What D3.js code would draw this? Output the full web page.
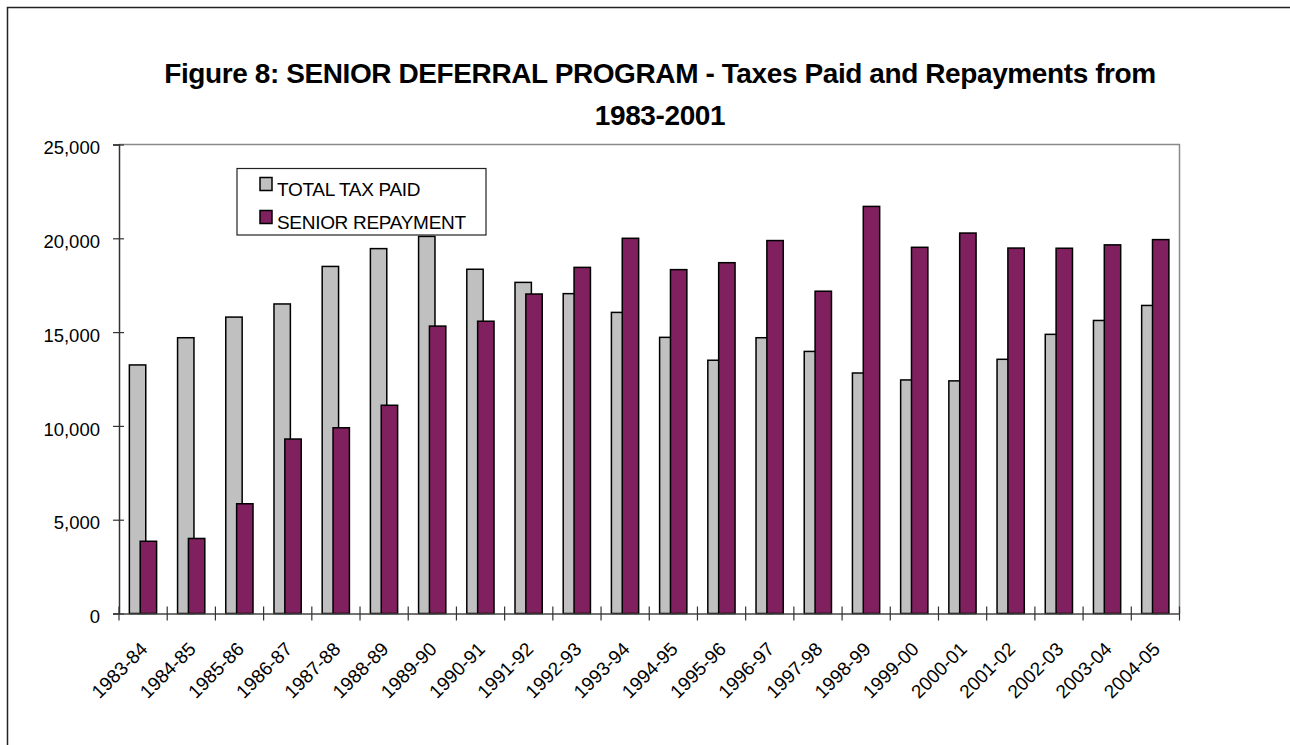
<!DOCTYPE html>
<html>
<head>
<meta charset="utf-8">
<script src="https://cdn.jsdelivr.net/npm/d3@7"></script>
<style>
  body { margin: 0; background: #fff; }
  svg { display: block; font-family: "Liberation Sans", Arial, sans-serif; }
</style>
</head>
<body>
<div id="chart"></div>
<script>
// data
const years = ["1983-84", "1984-85", "1985-86", "1986-87", "1987-88", "1988-89", "1989-90",
    "1990-91", "1991-92", "1992-93", "1993-94", "1994-95", "1995-96", "1996-97", "1997-98",
    "1998-99", "1999-00", "2000-01", "2001-02", "2002-03", "2003-04", "2004-05"];
const totalTaxPaid = [13250, 14700, 15800, 16500, 18500, 19450, 20100, 18350, 17650, 17050, 16050,
    14720, 13500, 14700, 13970, 12820, 12450, 12400, 13550, 14880, 15620, 16420];
const seniorRepayment = [3850, 4000, 5850, 9300, 9900, 11100, 15320, 15580, 17030, 18450, 20000,
    18330, 18700, 19880, 17180, 21700, 19520, 20280, 19480, 19470, 19650, 19930];
const seriesNames = ["TOTAL TAX PAID", "SENIOR REPAYMENT"];
const seriesColors = ["#C0C0C0", "#80205F"];
const yTicks = [0, 5000, 10000, 15000, 20000, 25000];
const titleLines = ["Figure 8: SENIOR DEFERRAL PROGRAM - Taxes Paid and Repayments from", "1983-2001"];

const W = 1290, H = 745;
const plot = {left: 119, right: 1179.5, top: 144.5, bottom: 613.5};

const svg = d3.select("#chart").append("svg")
    .attr("width", W)
    .attr("height", H);

// outer chart frame: only its left and top edges are in the picture
svg.append("path")
    .attr("d", `M7.5,${H}V7.5H${W}`)
    .attr("fill", "none")
    .attr("stroke", "#222")
    .attr("stroke-width", 1.5);

// title
svg.append("g").selectAll("text")
    .data(titleLines)
    .enter().append("text")
    .attr("x", 660)
    .attr("y", (d, i) => 83 + i * 42)
    .attr("text-anchor", "middle")
    .attr("font-size", 28)
    .attr("font-weight", "bold")
    .attr("letter-spacing", -0.4)
    .text(d => d);

const x = d3.scaleBand()
    .domain(years)
    .range([plot.left, plot.right]);

const y = d3.scaleLinear()
    .domain([0, 25000])
    .range([plot.bottom, plot.top]);

// plot area border (top and right are grey)
svg.append("path")
    .attr("d", `M${plot.left},${plot.top}H${plot.right}V${plot.bottom}`)
    .attr("fill", "none")
    .attr("stroke", "#8a8a8a")
    .attr("stroke-width", 1.5);

// bars
const bw = x.bandwidth();
const barW = bw * 0.34;
const offsets = [bw * 0.215, bw * 0.44];
const allSeries = [totalTaxPaid, seniorRepayment];

allSeries.forEach((vals, s) => {
    svg.append("g").selectAll("rect")
        .data(vals)
        .enter().append("rect")
        .attr("x", (d, i) => x(years[i]) + offsets[s])
        .attr("y", d => y(d))
        .attr("width", barW)
        .attr("height", d => y(0) - y(d))
        .attr("fill", seriesColors[s])
        .attr("stroke", "#000")
        .attr("stroke-width", 1.5);
});

// y axis
const yAxis = svg.append("g")
    .attr("transform", `translate(${plot.left},0)`)
    .call(d3.axisLeft(y).tickValues(yTicks).tickFormat(d3.format(",")).tickSize(6).tickPadding(13));
yAxis.select(".domain").attr("stroke", "#333").attr("stroke-width", 1.5);
yAxis.selectAll(".tick line").attr("x1", 5).attr("stroke", "#333").attr("stroke-width", 1.2);
yAxis.selectAll(".tick text")
    .attr("font-size", 18.5)
    .attr("font-family", "Liberation Sans, Arial, sans-serif")
    .attr("fill", "#000")
    .attr("dy", "0.5em");

// x axis: line, ticks between categories, rotated labels
const xAxis = svg.append("g")
    .attr("transform", `translate(0,${plot.bottom})`)
    .call(d3.axisBottom(x).tickSize(0).tickPadding(0));
xAxis.select(".domain").attr("stroke", "#444").attr("stroke-width", 1.5);
xAxis.selectAll(".tick text")
    .attr("font-size", 19)
    .attr("font-family", "Liberation Sans, Arial, sans-serif")
    .attr("fill", "#000")
    .attr("text-anchor", "end")
    .attr("dy", "0.35em")
    .attr("transform", "translate(1,32) rotate(-45)");

const bounds = years.map(d => x(d)).concat([plot.right]);
xAxis.append("g").selectAll("line")
    .data(bounds)
    .enter().append("line")
    .attr("x1", d => d).attr("x2", d => d)
    .attr("y1", -7).attr("y2", 7)
    .attr("stroke", "#333")
    .attr("stroke-width", 1.2);

// legend
const legend = svg.append("g").attr("transform", "translate(237,168.5)");
legend.append("rect")
    .attr("width", 249).attr("height", 66.5)
    .attr("fill", "#fff")
    .attr("stroke", "#222")
    .attr("stroke-width", 1.2);
const items = legend.selectAll(".item")
    .data(seriesNames)
    .enter().append("g")
    .attr("class", "item")
    .attr("transform", (d, i) => `translate(23,${9 + i * 33})`);
items.append("rect")
    .attr("width", 12).attr("height", 13)
    .attr("fill", (d, i) => seriesColors[i])
    .attr("stroke", "#000")
    .attr("stroke-width", 1.5);
items.append("text")
    .attr("x", 17)
    .attr("y", 18)
    .attr("font-size", 19)
    .attr("letter-spacing", -0.3)
    .text(d => d);
</script>
</body>
</html>
